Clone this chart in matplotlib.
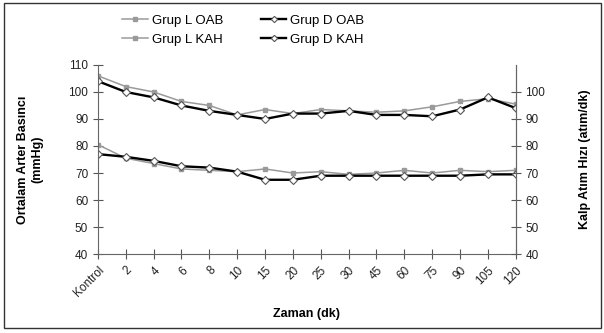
import matplotlib.pyplot as plt
import numpy as np
from matplotlib.patches import Rectangle

plt.rcParams['font.family'] = ['Liberation Sans', 'DejaVu Sans']

zaman = ["Kontrol", "2", "4", "6", "8", "10", "15", "20", "25", "30",
         "45", "60", "75", "90", "105", "120"]

oab_l = [106, 102, 100, 96.5, 95, 91.5, 93.5, 92, 93.5, 93, 92.5, 93, 94.5, 96.5, 97.5, 95.5]
oab_d = [104, 100, 98, 95, 93, 91.5, 90, 92, 92, 93, 91.5, 91.5, 91, 93.5, 98, 94]
kah_l = [80.5, 75.5, 73.5, 71.5, 71, 70.5, 71.5, 70, 70.5, 69.5, 70, 71, 70, 71, 70.5, 71]
kah_d = [77, 76, 74.5, 72.5, 72, 70.5, 67.5, 67.5, 69, 69, 69, 69, 69, 69, 69.5, 69.5]

x = np.arange(len(zaman))

fig = plt.figure(figsize=(6.04, 3.33), dpi=100)
ax = fig.add_axes([0.162, 0.237, 0.692, 0.568])

gray = "#9a9a9a"
h1, = ax.plot(x, oab_l, color=gray, lw=1.1, marker="s", ms=3.5, mfc=gray, mec=gray, label="Grup L OAB")
h2, = ax.plot(x, oab_d, color="black", lw=1.7, marker="D", ms=4, mfc="white", mec="#555555", mew=0.8, label="Grup D OAB")
h3, = ax.plot(x, kah_l, color=gray, lw=1.1, marker="s", ms=3.5, mfc=gray, mec=gray, label="Grup L KAH")
h4, = ax.plot(x, kah_d, color="black", lw=1.7, marker="D", ms=4, mfc="white", mec="#555555", mew=0.8, label="Grup D KAH")

ax.set_xlim(0, len(zaman) - 1)
ax.set_ylim(40, 110)
ax.set_yticks(range(40, 111, 10))
ax.set_xticks(x)
ax.set_xticklabels(zaman, rotation=45, ha="right", rotation_mode="anchor", fontsize=8.5)
ax.tick_params(axis="both", direction="inout", length=7, color="#555555", labelcolor="#222222", labelsize=8.5)
ax.tick_params(axis="x", pad=4)

for s in ["left", "right", "bottom"]:
    ax.spines[s].set_color("#666666")
ax.spines["top"].set_visible(False)

ax2 = ax.twinx()
ax2.set_ylim(40, 110)
ax2.set_yticks(range(40, 101, 10))
ax2.tick_params(axis="y", direction="inout", length=7, color="#555555", labelcolor="#222222", labelsize=8.5)
ax2.spines["top"].set_visible(False)
ax2.spines["right"].set_color("#666666")
ax2.spines["left"].set_visible(False)
ax2.spines["bottom"].set_visible(False)

ax.set_xlabel("Zaman (dk)", fontsize=9, fontweight="bold", labelpad=6)
ax.set_ylabel("Ortalam Arter Basıncı\n(mmHg)", fontsize=9, fontweight="bold", labelpad=18)
ax2.set_ylabel("Kalp Atım Hızı (atım/dk)", fontsize=9, fontweight="bold", labelpad=24)

ax.legend([h1, h3, h2, h4], ["Grup L OAB", "Grup L KAH", "Grup D OAB", "Grup D KAH"],
          loc="lower left", bbox_to_anchor=(0.04, 1.06), ncol=2, frameon=False,
          fontsize=9.5, handlelength=1.9, columnspacing=2.9, labelspacing=0.5,
          handletextpad=0.3, markerscale=0.8, borderaxespad=0.2)

fig.patches.append(Rectangle((0.007, 0.015), 0.988, 0.975, transform=fig.transFigure,
                             fill=False, edgecolor="#333333", lw=1.0))

fig.savefig("out.png", dpi=100)
